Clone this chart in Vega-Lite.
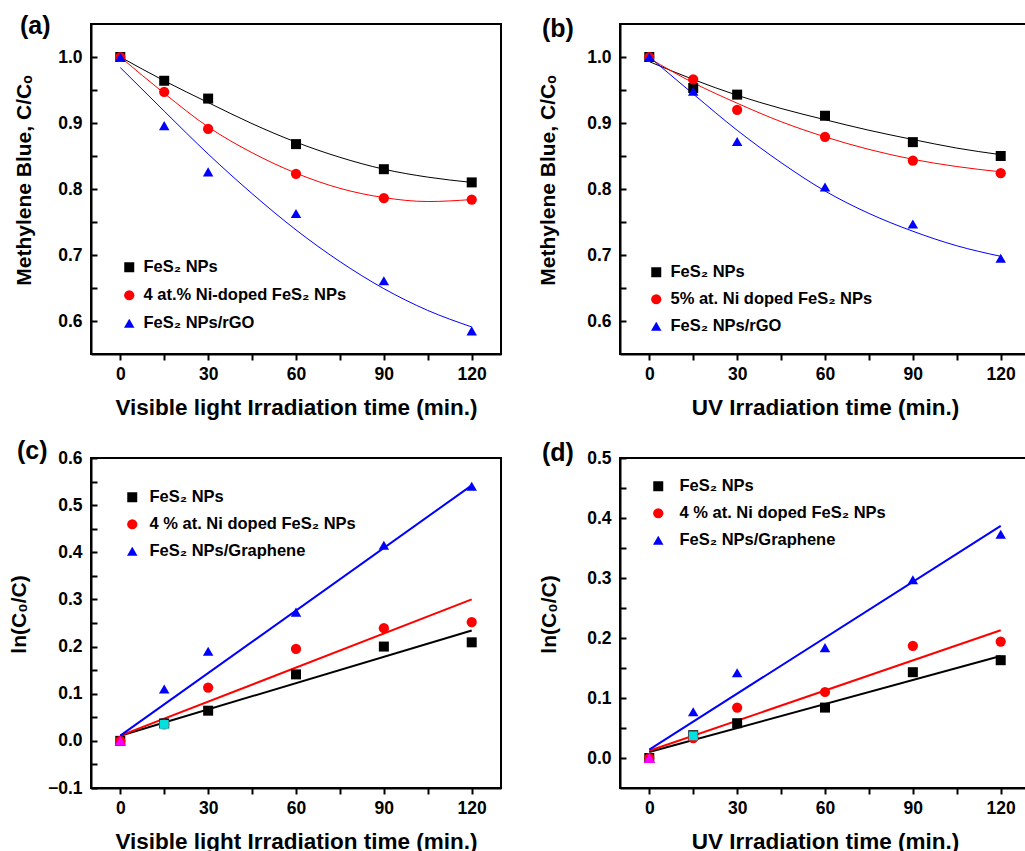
{
  "$schema": "https://vega.github.io/schema/vega-lite/v6.json",
  "background": "white",
  "padding": {"left": 7, "top": 13, "right": 0, "bottom": 0},
  "bounds": "flush",
  "columns": 2,
  "spacing": {"row": 104, "column": 119},
  "config": {
    "font": "Liberation Sans",
    "view": {"stroke": "black", "strokeWidth": 2},
    "axis": {
      "grid": false,
      "labelFont": "Liberation Sans", "labelFontWeight": "bold", "labelFontSize": 17.5, "labelColor": "black",
      "titleFont": "Liberation Sans", "titleFontWeight": "bold", "titleFontSize": 21, "titleColor": "black",
      "domainColor": "black", "domainWidth": 2, "tickColor": "black", "tickWidth": 2,
      "labelOverlap": false, "labelFlush": false
    },
    "axisX": {"tickSize": 6, "labelPadding": 5, "titleFontSize": 22.5, "titleY": 60, "titleBaseline": "alphabetic"},
    "axisY": {"tickSize": -6, "labelPadding": 15, "titleY": 156, "titleBaseline": "alphabetic", "titleAlign": "center", "titleAngle": 270},
    "title": {"font": "Liberation Sans", "fontSize": 25, "fontWeight": "bold", "color": "black", "anchor": "start", "frame": "group", "baseline": "alphabetic"},
    "legend": {"orient": "none", "labelFont": "Liberation Sans", "labelFontSize": 16.5, "labelFontWeight": "bold", "labelColor": "black", "symbolSize": 120, "padding": 0, "labelLimit": 500, "symbolStrokeWidth": 0}
  },
  "datasets": {
    "ptsA": [
      {"t": 0, "v": 1.0, "s": "FeS₂ NPs"}, {"t": 15, "v": 0.964, "s": "FeS₂ NPs"}, {"t": 30, "v": 0.937, "s": "FeS₂ NPs"}, {"t": 60, "v": 0.868, "s": "FeS₂ NPs"}, {"t": 90, "v": 0.830, "s": "FeS₂ NPs"}, {"t": 120, "v": 0.810, "s": "FeS₂ NPs"},
      {"t": 0, "v": 1.0, "s": "4 at.% Ni-doped FeS₂ NPs"}, {"t": 15, "v": 0.947, "s": "4 at.% Ni-doped FeS₂ NPs"}, {"t": 30, "v": 0.891, "s": "4 at.% Ni-doped FeS₂ NPs"}, {"t": 60, "v": 0.823, "s": "4 at.% Ni-doped FeS₂ NPs"}, {"t": 90, "v": 0.786, "s": "4 at.% Ni-doped FeS₂ NPs"}, {"t": 120, "v": 0.784, "s": "4 at.% Ni-doped FeS₂ NPs"},
      {"t": 0, "v": 1.0, "s": "FeS₂ NPs/rGO"}, {"t": 15, "v": 0.896, "s": "FeS₂ NPs/rGO"}, {"t": 30, "v": 0.826, "s": "FeS₂ NPs/rGO"}, {"t": 60, "v": 0.763, "s": "FeS₂ NPs/rGO"}, {"t": 90, "v": 0.661, "s": "FeS₂ NPs/rGO"}, {"t": 120, "v": 0.585, "s": "FeS₂ NPs/rGO"}
    ],
    "fitA": [
      {"t": 0, "v": 1.0, "s": "k"}, {"t": 15, "v": 0.964, "s": "k"}, {"t": 30, "v": 0.931, "s": "k"}, {"t": 45, "v": 0.899, "s": "k"}, {"t": 60, "v": 0.871, "s": "k"}, {"t": 75, "v": 0.848, "s": "k"}, {"t": 90, "v": 0.830, "s": "k"}, {"t": 105, "v": 0.818, "s": "k"}, {"t": 120, "v": 0.810, "s": "k"},
      {"t": 0, "v": 1.0, "s": "r"}, {"t": 15, "v": 0.945, "s": "r"}, {"t": 30, "v": 0.894, "s": "r"}, {"t": 45, "v": 0.855, "s": "r"}, {"t": 60, "v": 0.824, "s": "r"}, {"t": 75, "v": 0.801, "s": "r"}, {"t": 90, "v": 0.787, "s": "r"}, {"t": 105, "v": 0.781, "s": "r"}, {"t": 120, "v": 0.784, "s": "r"},
      {"t": 0, "v": 0.984, "s": "b"}, {"t": 15, "v": 0.918, "s": "b"}, {"t": 30, "v": 0.853, "s": "b"}, {"t": 45, "v": 0.793, "s": "b"}, {"t": 60, "v": 0.738, "s": "b"}, {"t": 75, "v": 0.690, "s": "b"}, {"t": 90, "v": 0.649, "s": "b"}, {"t": 105, "v": 0.616, "s": "b"}, {"t": 120, "v": 0.591, "s": "b"}
    ],
    "ptsB": [
      {"t": 0, "v": 1.0, "s": "FeS₂ NPs"}, {"t": 15, "v": 0.953, "s": "FeS₂ NPs"}, {"t": 30, "v": 0.943, "s": "FeS₂ NPs"}, {"t": 60, "v": 0.911, "s": "FeS₂ NPs"}, {"t": 90, "v": 0.871, "s": "FeS₂ NPs"}, {"t": 120, "v": 0.850, "s": "FeS₂ NPs"},
      {"t": 0, "v": 1.0, "s": "5% at. Ni doped FeS₂ NPs"}, {"t": 15, "v": 0.966, "s": "5% at. Ni doped FeS₂ NPs"}, {"t": 30, "v": 0.920, "s": "5% at. Ni doped FeS₂ NPs"}, {"t": 60, "v": 0.879, "s": "5% at. Ni doped FeS₂ NPs"}, {"t": 90, "v": 0.843, "s": "5% at. Ni doped FeS₂ NPs"}, {"t": 120, "v": 0.824, "s": "5% at. Ni doped FeS₂ NPs"},
      {"t": 0, "v": 1.0, "s": "FeS₂ NPs/rGO"}, {"t": 15, "v": 0.948, "s": "FeS₂ NPs/rGO"}, {"t": 30, "v": 0.872, "s": "FeS₂ NPs/rGO"}, {"t": 60, "v": 0.803, "s": "FeS₂ NPs/rGO"}, {"t": 90, "v": 0.747, "s": "FeS₂ NPs/rGO"}, {"t": 120, "v": 0.695, "s": "FeS₂ NPs/rGO"}
    ],
    "fitB": [
      {"t": 0, "v": 0.993, "s": "k"}, {"t": 15, "v": 0.966, "s": "k"}, {"t": 30, "v": 0.942, "s": "k"}, {"t": 45, "v": 0.922, "s": "k"}, {"t": 60, "v": 0.905, "s": "k"}, {"t": 75, "v": 0.889, "s": "k"}, {"t": 90, "v": 0.875, "s": "k"}, {"t": 105, "v": 0.862, "s": "k"}, {"t": 120, "v": 0.852, "s": "k"},
      {"t": 0, "v": 0.998, "s": "r"}, {"t": 15, "v": 0.961, "s": "r"}, {"t": 30, "v": 0.930, "s": "r"}, {"t": 45, "v": 0.902, "s": "r"}, {"t": 60, "v": 0.879, "s": "r"}, {"t": 75, "v": 0.860, "s": "r"}, {"t": 90, "v": 0.845, "s": "r"}, {"t": 105, "v": 0.834, "s": "r"}, {"t": 120, "v": 0.826, "s": "r"},
      {"t": 0, "v": 1.0, "s": "b"}, {"t": 15, "v": 0.944, "s": "b"}, {"t": 30, "v": 0.889, "s": "b"}, {"t": 45, "v": 0.840, "s": "b"}, {"t": 60, "v": 0.797, "s": "b"}, {"t": 75, "v": 0.763, "s": "b"}, {"t": 90, "v": 0.736, "s": "b"}, {"t": 105, "v": 0.714, "s": "b"}, {"t": 120, "v": 0.698, "s": "b"}
    ],
    "ptsC": [
      {"t": 0, "v": 0, "s": "FeS₂ NPs"}, {"t": 15, "v": 0.037, "s": "FeS₂ NPs"}, {"t": 30, "v": 0.064, "s": "FeS₂ NPs"}, {"t": 60, "v": 0.141, "s": "FeS₂ NPs"}, {"t": 90, "v": 0.200, "s": "FeS₂ NPs"}, {"t": 120, "v": 0.209, "s": "FeS₂ NPs"},
      {"t": 0, "v": 0, "s": "4 % at. Ni doped FeS₂ NPs"}, {"t": 15, "v": 0.035, "s": "4 % at. Ni doped FeS₂ NPs"}, {"t": 30, "v": 0.113, "s": "4 % at. Ni doped FeS₂ NPs"}, {"t": 60, "v": 0.195, "s": "4 % at. Ni doped FeS₂ NPs"}, {"t": 90, "v": 0.239, "s": "4 % at. Ni doped FeS₂ NPs"}, {"t": 120, "v": 0.252, "s": "4 % at. Ni doped FeS₂ NPs"},
      {"t": 0, "v": 0, "s": "FeS₂ NPs/Graphene"}, {"t": 15, "v": 0.110, "s": "FeS₂ NPs/Graphene"}, {"t": 30, "v": 0.190, "s": "FeS₂ NPs/Graphene"}, {"t": 60, "v": 0.273, "s": "FeS₂ NPs/Graphene"}, {"t": 90, "v": 0.415, "s": "FeS₂ NPs/Graphene"}, {"t": 120, "v": 0.540, "s": "FeS₂ NPs/Graphene"}
    ],
    "fitC": [
      {"t": 0, "v": 0.011, "s": "k"}, {"t": 120, "v": 0.234, "s": "k"},
      {"t": 0, "v": 0.011, "s": "r"}, {"t": 120, "v": 0.300, "s": "r"},
      {"t": 0, "v": 0.011, "s": "b"}, {"t": 120, "v": 0.542, "s": "b"}
    ],
    "ptsD": [
      {"t": 0, "v": 0, "s": "FeS₂ NPs"}, {"t": 15, "v": 0.038, "s": "FeS₂ NPs"}, {"t": 30, "v": 0.058, "s": "FeS₂ NPs"}, {"t": 60, "v": 0.084, "s": "FeS₂ NPs"}, {"t": 90, "v": 0.143, "s": "FeS₂ NPs"}, {"t": 120, "v": 0.163, "s": "FeS₂ NPs"},
      {"t": 0, "v": 0, "s": "4 % at. Ni doped FeS₂ NPs"}, {"t": 15, "v": 0.033, "s": "4 % at. Ni doped FeS₂ NPs"}, {"t": 30, "v": 0.084, "s": "4 % at. Ni doped FeS₂ NPs"}, {"t": 60, "v": 0.110, "s": "4 % at. Ni doped FeS₂ NPs"}, {"t": 90, "v": 0.187, "s": "4 % at. Ni doped FeS₂ NPs"}, {"t": 120, "v": 0.194, "s": "4 % at. Ni doped FeS₂ NPs"},
      {"t": 0, "v": 0, "s": "FeS₂ NPs/Graphene"}, {"t": 15, "v": 0.077, "s": "FeS₂ NPs/Graphene"}, {"t": 30, "v": 0.142, "s": "FeS₂ NPs/Graphene"}, {"t": 60, "v": 0.184, "s": "FeS₂ NPs/Graphene"}, {"t": 90, "v": 0.297, "s": "FeS₂ NPs/Graphene"}, {"t": 120, "v": 0.373, "s": "FeS₂ NPs/Graphene"}
    ],
    "fitD": [
      {"t": 0, "v": 0.010, "s": "k"}, {"t": 120, "v": 0.170, "s": "k"},
      {"t": 0, "v": 0.012, "s": "r"}, {"t": 120, "v": 0.213, "s": "r"},
      {"t": 0, "v": 0.014, "s": "b"}, {"t": 120, "v": 0.387, "s": "b"}
    ],
    "magC": [{"t": 0, "v": 0}],
    "cyanC": [{"t": 15, "v": 0.035}],
    "magD": [{"t": 0, "v": 0}],
    "cyanD": [{"t": 15, "v": 0.037}]
  },
  "resolve": {"scale": {"color": "independent", "shape": "independent", "size": "independent"}, "legend": {"color": "independent", "shape": "independent", "size": "independent"}},
  "concat": [
    {
      "width": 410, "height": 330,
      "title": {"text": "(a)", "dx": -71, "offset": -15},
      "encoding": {
        "x": {"field": "t", "type": "quantitative", "scale": {"domain": [-10, 130], "nice": false, "zero": false}, "title": "Visible light Irradiation time (min.)", "axis": {"values": [0, 15, 30, 45, 60, 75, 90, 105, 120], "labelExpr": "datum.value % 30 === 0 ? datum.label : ''"}},
        "y": {"field": "v", "type": "quantitative", "scale": {"domain": [0.55, 1.05], "nice": false, "zero": false}, "title": "Methylene Blue, C/Cₒ", "axis": {"titleX": -60.5, "values": [0.6, 0.65, 0.7, 0.75, 0.8, 0.85, 0.9, 0.95, 1.0], "labelExpr": "abs(round(datum.value*100)) % 10 === 0 ? format(datum.value, '.1f') : ''"}}
      },
      "layer": [
        {"data": {"name": "fitA"}, "transform": [{"filter": "datum.s === 'k'"}], "mark": {"type": "line", "strokeWidth": 1, "interpolate": "monotone", "color": "#000000"}},
        {"data": {"name": "fitA"}, "transform": [{"filter": "datum.s === 'r'"}], "mark": {"type": "line", "strokeWidth": 1, "interpolate": "monotone", "color": "#ff0000"}},
        {"data": {"name": "fitA"}, "transform": [{"filter": "datum.s === 'b'"}], "mark": {"type": "line", "strokeWidth": 1, "interpolate": "monotone", "color": "#0000ff"}},
        {
          "data": {"name": "ptsA"},
          "mark": {"type": "point", "filled": true, "opacity": 1},
          "encoding": {
            "color": {"field": "s", "type": "nominal", "scale": {"domain": ["FeS₂ NPs", "4 at.% Ni-doped FeS₂ NPs", "FeS₂ NPs/rGO"], "range": ["#000000", "#ff0000", "#0000ff"]}, "legend": {"title": null, "legendX": 30, "legendY": 235, "rowPadding": 11, "labelOffset": 6}},
            "shape": {"field": "s", "type": "nominal", "scale": {"domain": ["FeS₂ NPs", "4 at.% Ni-doped FeS₂ NPs", "FeS₂ NPs/rGO"], "range": ["square", "circle", "triangle-up"]}, "legend": {"title": null, "legendX": 30, "legendY": 235, "rowPadding": 11, "labelOffset": 6}},
            "size": {"field": "s", "type": "nominal", "scale": {"domain": ["FeS₂ NPs", "4 at.% Ni-doped FeS₂ NPs", "FeS₂ NPs/rGO"], "range": [100, 110, 180]}, "legend": null}
          }
        }
      ]
    },
    {
      "width": 410, "height": 330,
      "title": {"text": "(b)", "dx": -78, "offset": -18},
      "encoding": {
        "x": {"field": "t", "type": "quantitative", "scale": {"domain": [-10, 130], "nice": false, "zero": false}, "title": "UV Irradiation time (min.)", "axis": {"values": [0, 15, 30, 45, 60, 75, 90, 105, 120], "labelExpr": "datum.value % 30 === 0 ? datum.label : ''"}},
        "y": {"field": "v", "type": "quantitative", "scale": {"domain": [0.55, 1.05], "nice": false, "zero": false}, "title": "Methylene Blue, C/Cₒ", "axis": {"titleX": -65.5, "values": [0.6, 0.65, 0.7, 0.75, 0.8, 0.85, 0.9, 0.95, 1.0], "labelExpr": "abs(round(datum.value*100)) % 10 === 0 ? format(datum.value, '.1f') : ''"}}
      },
      "layer": [
        {"data": {"name": "fitB"}, "transform": [{"filter": "datum.s === 'k'"}], "mark": {"type": "line", "strokeWidth": 1, "interpolate": "monotone", "color": "#000000"}},
        {"data": {"name": "fitB"}, "transform": [{"filter": "datum.s === 'r'"}], "mark": {"type": "line", "strokeWidth": 1, "interpolate": "monotone", "color": "#ff0000"}},
        {"data": {"name": "fitB"}, "transform": [{"filter": "datum.s === 'b'"}], "mark": {"type": "line", "strokeWidth": 1, "interpolate": "monotone", "color": "#0000ff"}},
        {
          "data": {"name": "ptsB"},
          "mark": {"type": "point", "filled": true, "opacity": 1},
          "encoding": {
            "color": {"field": "s", "type": "nominal", "scale": {"domain": ["FeS₂ NPs", "5% at. Ni doped FeS₂ NPs", "FeS₂ NPs/rGO"], "range": ["#000000", "#ff0000", "#0000ff"]}, "legend": {"title": null, "legendX": 28, "legendY": 240, "rowPadding": 10, "labelOffset": 6}},
            "shape": {"field": "s", "type": "nominal", "scale": {"domain": ["FeS₂ NPs", "5% at. Ni doped FeS₂ NPs", "FeS₂ NPs/rGO"], "range": ["square", "circle", "triangle-up"]}, "legend": {"title": null, "legendX": 28, "legendY": 240, "rowPadding": 10, "labelOffset": 6}},
            "size": {"field": "s", "type": "nominal", "scale": {"domain": ["FeS₂ NPs", "5% at. Ni doped FeS₂ NPs", "FeS₂ NPs/rGO"], "range": [100, 110, 180]}, "legend": null}
          }
        }
      ]
    },
    {
      "width": 410, "height": 330,
      "title": {"text": "(c)", "dx": -74, "offset": -15},
      "encoding": {
        "x": {"field": "t", "type": "quantitative", "scale": {"domain": [-10, 130], "nice": false, "zero": false}, "title": "Visible light Irradiation time (min.)", "axis": {"values": [0, 15, 30, 45, 60, 75, 90, 105, 120], "labelExpr": "datum.value % 30 === 0 ? datum.label : ''"}},
        "y": {"field": "v", "type": "quantitative", "scale": {"domain": [-0.1, 0.6], "nice": false, "zero": false}, "title": "ln(C₀/C)", "axis": {"titleX": -65.5, "values": [-0.1, -0.05, 0, 0.05, 0.1, 0.15, 0.2, 0.25, 0.3, 0.35, 0.4, 0.45, 0.5, 0.55, 0.6], "labelExpr": "abs(round(datum.value*100)) % 10 === 0 ? format(datum.value, '.1f') : ''"}}
      },
      "layer": [
        {"data": {"name": "fitC"}, "transform": [{"filter": "datum.s === 'k'"}], "mark": {"type": "line", "strokeWidth": 2, "color": "#000000"}},
        {"data": {"name": "fitC"}, "transform": [{"filter": "datum.s === 'r'"}], "mark": {"type": "line", "strokeWidth": 2, "color": "#ff0000"}},
        {"data": {"name": "fitC"}, "transform": [{"filter": "datum.s === 'b'"}], "mark": {"type": "line", "strokeWidth": 2, "color": "#0000ff"}},
        {
          "data": {"name": "ptsC"},
          "mark": {"type": "point", "filled": true, "opacity": 1},
          "encoding": {
            "color": {"field": "s", "type": "nominal", "scale": {"domain": ["FeS₂ NPs", "4 % at. Ni doped FeS₂ NPs", "FeS₂ NPs/Graphene"], "range": ["#000000", "#ff0000", "#0000ff"]}, "legend": {"title": null, "legendX": 33, "legendY": 31, "rowPadding": 10, "labelOffset": 9}},
            "shape": {"field": "s", "type": "nominal", "scale": {"domain": ["FeS₂ NPs", "4 % at. Ni doped FeS₂ NPs", "FeS₂ NPs/Graphene"], "range": ["square", "circle", "triangle-up"]}, "legend": {"title": null, "legendX": 33, "legendY": 31, "rowPadding": 10, "labelOffset": 9}},
            "size": {"field": "s", "type": "nominal", "scale": {"domain": ["FeS₂ NPs", "4 % at. Ni doped FeS₂ NPs", "FeS₂ NPs/Graphene"], "range": [100, 110, 180]}, "legend": null}
          }
        },
        {"data": {"name": "cyanC"}, "mark": {"type": "point", "filled": true, "opacity": 1, "size": 80, "shape": "square", "color": "#00e0e0"}},
        {"data": {"name": "magC"}, "mark": {"type": "point", "filled": true, "opacity": 1, "size": 130, "shape": "triangle-up", "color": "#ff00ff"}}
      ]
    },
    {
      "width": 410, "height": 330,
      "title": {"text": "(d)", "dx": -78, "offset": -16.5},
      "encoding": {
        "x": {"field": "t", "type": "quantitative", "scale": {"domain": [-10, 130], "nice": false, "zero": false}, "title": "UV Irradiation time (min.)", "axis": {"values": [0, 15, 30, 45, 60, 75, 90, 105, 120], "labelExpr": "datum.value % 30 === 0 ? datum.label : ''"}},
        "y": {"field": "v", "type": "quantitative", "scale": {"domain": [-0.05, 0.5], "nice": false, "zero": false}, "title": "ln(C₀/C)", "axis": {"titleX": -64.5, "values": [0, 0.05, 0.1, 0.15, 0.2, 0.25, 0.3, 0.35, 0.4, 0.45, 0.5], "labelExpr": "abs(round(datum.value*100)) % 10 === 0 ? format(datum.value, '.1f') : ''"}}
      },
      "layer": [
        {"data": {"name": "fitD"}, "transform": [{"filter": "datum.s === 'k'"}], "mark": {"type": "line", "strokeWidth": 2, "color": "#000000"}},
        {"data": {"name": "fitD"}, "transform": [{"filter": "datum.s === 'r'"}], "mark": {"type": "line", "strokeWidth": 2, "color": "#ff0000"}},
        {"data": {"name": "fitD"}, "transform": [{"filter": "datum.s === 'b'"}], "mark": {"type": "line", "strokeWidth": 2, "color": "#0000ff"}},
        {
          "data": {"name": "ptsD"},
          "mark": {"type": "point", "filled": true, "opacity": 1},
          "encoding": {
            "color": {"field": "s", "type": "nominal", "scale": {"domain": ["FeS₂ NPs", "4 % at. Ni doped FeS₂ NPs", "FeS₂ NPs/Graphene"], "range": ["#000000", "#ff0000", "#0000ff"]}, "legend": {"title": null, "legendX": 30, "legendY": 20, "rowPadding": 10, "labelOffset": 13}},
            "shape": {"field": "s", "type": "nominal", "scale": {"domain": ["FeS₂ NPs", "4 % at. Ni doped FeS₂ NPs", "FeS₂ NPs/Graphene"], "range": ["square", "circle", "triangle-up"]}, "legend": {"title": null, "legendX": 30, "legendY": 20, "rowPadding": 10, "labelOffset": 13}},
            "size": {"field": "s", "type": "nominal", "scale": {"domain": ["FeS₂ NPs", "4 % at. Ni doped FeS₂ NPs", "FeS₂ NPs/Graphene"], "range": [100, 110, 180]}, "legend": null}
          }
        },
        {"data": {"name": "cyanD"}, "mark": {"type": "point", "filled": true, "opacity": 1, "size": 80, "shape": "square", "color": "#00e0e0"}},
        {"data": {"name": "magD"}, "mark": {"type": "point", "filled": true, "opacity": 1, "size": 130, "shape": "triangle-up", "color": "#ff00ff"}}
      ]
    }
  ]
}
